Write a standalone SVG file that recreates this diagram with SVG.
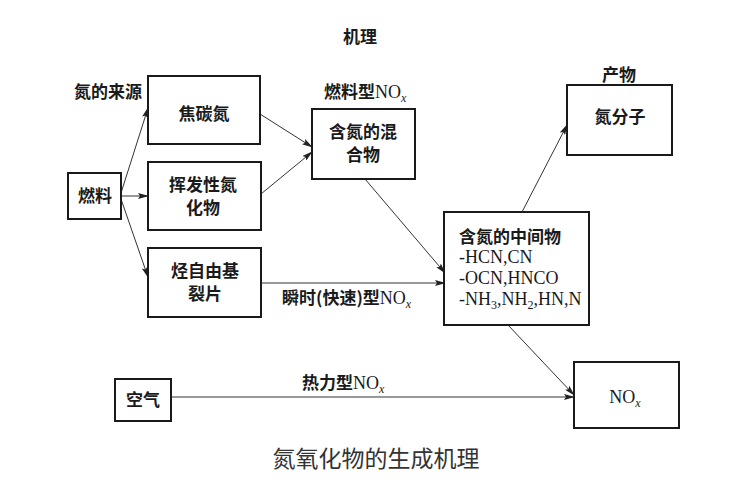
<svg xmlns="http://www.w3.org/2000/svg" width="746" height="496" viewBox="0 0 746 496">
<defs>
<marker id="ah" markerUnits="userSpaceOnUse" markerWidth="11" markerHeight="6" refX="10" refY="3" orient="auto">
<path d="M0,0 L11,3 L0,6 L2,3 z" fill="#222"/>
</marker>
<style>
.box{fill:#fff;stroke:#1a1a1a;stroke-width:2}
.t{font-family:"Noto Sans CJK SC","Liberation Sans",sans-serif;font-size:17px;font-weight:bold;fill:#1a1a1a}
.c{text-anchor:middle}
.lat{font-family:"Liberation Serif","Times New Roman",serif;font-weight:normal;font-size:18px}
.sub{font-family:"Liberation Serif",serif;font-weight:normal;font-size:12px}
.cap{font-family:"Noto Sans CJK SC",sans-serif;font-size:23px;fill:#333;text-anchor:middle}
.ln{fill:none;stroke:#333;stroke-width:1;marker-end:url(#ah)}
</style>
</defs>
<rect width="746" height="496" fill="#fff"/>

<g id="labels">
<text class="t c" x="360" y="43">机理</text>
<text class="t c" x="619" y="81">产物</text>
<text class="t c" x="108" y="98">氮的来源</text>
<text class="t" x="324" y="98">燃料型<tspan class="lat">NO</tspan><tspan class="sub" font-style="italic" dy="4">x</tspan></text>
<text class="t" x="282" y="304">瞬时(快速)型<tspan class="lat">NO</tspan><tspan class="sub" font-style="italic" dy="4">x</tspan></text>
<text class="t" x="302" y="389">热力型<tspan class="lat">NO</tspan><tspan class="sub" font-style="italic" dy="4">x</tspan></text>
<text class="cap" x="376" y="467">氮氧化物的生成机理</text>
</g>

<g id="connectors">
<line class="ln" x1="121" y1="193" x2="148" y2="108"/>
<line class="ln" x1="121" y1="196" x2="148" y2="196"/>
<line class="ln" x1="121" y1="199" x2="148" y2="277"/>
<line class="ln" x1="260" y1="114" x2="312" y2="147"/>
<line class="ln" x1="261" y1="194" x2="312" y2="152"/>
<line class="ln" x1="365" y1="179" x2="445" y2="273"/>
<line class="ln" x1="261" y1="283" x2="445" y2="283"/>
<line class="ln" x1="522" y1="212" x2="567" y2="125"/>
<line class="ln" x1="508" y1="325" x2="574" y2="395"/>
<line class="ln" x1="171" y1="397" x2="574" y2="397"/>
</g>

<g id="n-fuel">
<rect class="box" x="68" y="173" width="53" height="46"/>
<text class="t c" x="95" y="202">燃料</text>
</g>
<g id="n-char">
<rect class="box" x="148" y="76" width="112" height="68"/>
<text class="t c" x="204" y="120">焦碳氮</text>
</g>
<g id="n-volatile">
<rect class="box" x="148" y="162" width="113" height="68"/>
<text class="t c"><tspan x="203" y="191">挥发性氮</tspan><tspan x="203" y="214">化物</tspan></text>
</g>
<g id="n-radical">
<rect class="box" x="148" y="248" width="113" height="69"/>
<text class="t c"><tspan x="205" y="277">烃自由基</tspan><tspan x="205" y="300">裂片</tspan></text>
</g>
<g id="n-mix">
<rect class="box" x="312" y="109" width="103" height="70"/>
<text class="t c"><tspan x="363" y="138">含氮的混</tspan><tspan x="363" y="161">合物</tspan></text>
</g>
<g id="n-inter">
<rect class="box" x="444" y="212" width="145" height="113"/>
<text class="t" x="459" y="243">含氮的中间物</text>
<text class="t lat" x="459" y="263">-HCN,CN</text>
<text class="t lat" x="459" y="284">-OCN,HNCO</text>
<text class="t lat" x="459" y="305">-NH<tspan class="sub" dy="4">3</tspan><tspan dy="-4">,NH</tspan><tspan class="sub" dy="4">2</tspan><tspan dy="-4">,HN,N</tspan></text>
</g>
<g id="n-n2">
<rect class="box" x="567" y="85" width="105" height="70"/>
<text class="t c" x="620" y="123">氮分子</text>
</g>
<g id="n-nox">
<rect class="box" x="574" y="362" width="105" height="66"/>
<text class="t c lat" x="625" y="403">NO<tspan class="sub" font-style="italic" dy="4">x</tspan></text>
</g>
<g id="n-air">
<rect class="box" x="115" y="379" width="56" height="42"/>
<text class="t c" x="143" y="406">空气</text>
</g>
</svg>
